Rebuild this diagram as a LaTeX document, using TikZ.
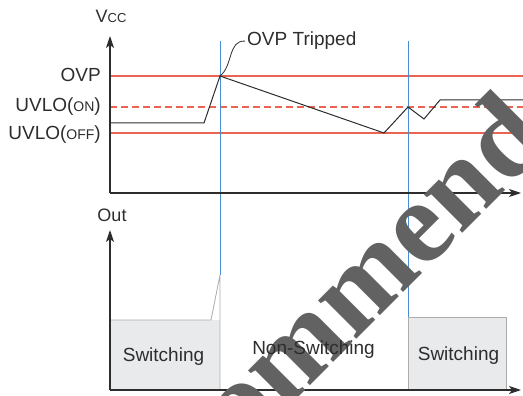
\documentclass[tikz,border=0pt]{standalone}
\usepackage{fontspec}
\setmainfont{Liberation Sans}
\newfontfamily\markfont{Liberation Serif}
\usetikzlibrary{arrows.meta}

\definecolor{limitred}{RGB}{234,100,84}
\definecolor{eventblue}{RGB}{72,142,212}
\definecolor{boxgray}{RGB}{233,234,236}
\definecolor{inkgray}{RGB}{45,45,45}
\definecolor{stampgray}{RGB}{98,98,98}

\begin{document}
\begin{tikzpicture}[x=1pt,y=-1pt,>={Stealth[length=12pt,width=8pt,inset=3pt]},
  axis/.style={->,line width=1.2pt,inkgray},
  level/.style={line width=1.3pt,limitred},
  event/.style={line width=1pt,eventblue},
  trace/.style={line width=1pt,inkgray},
  edge/.style={gray!65,line width=0.8pt},
  tag/.style={inner sep=0pt,text=inkgray,font=\fontsize{19}{19}\selectfont}]
\useasboundingbox (0,0) rectangle (523,396);

\coordinate (trip) at (220,76);

% threshold levels
\draw[level] (110,76) -- (523,76);
\draw[level,dash pattern=on 7pt off 4pt] (110,107) -- (523,107);
\draw[level] (110,133) -- (523,133);

% output regions
\fill[boxgray] (110,320) rectangle (220,390);
\fill[boxgray] (408,317) rectangle (506,390);
\draw[edge] (110,320) -- (211,320) -- (220,275) -- (220,390);
\draw[edge] (408,390) -- (408,317) -- (506,317) -- (506,390);

% events
\draw[event] (220,41) -- (220,275);
\draw[event] (408,41) -- (408,317);

% vcc trace
\draw[trace] (110,123) -- (204,123) -- (trip) -- (384,133) -- (408,107)
  -- (424,119) -- (440,100) -- (523,100);

% axes
\draw[axis] (110,193) -- (110,36);
\draw[axis] (110,193) -- (521,193);
\draw[axis] (110,390) -- (110,230);
\draw[axis] (110,390) -- (521,390);

\node[tag,anchor=base east] (ovp) at (101,82) {OVP};
\node[tag,anchor=base east] (uvloon) at (101,112) {UVLO({\fontsize{14}{14}\selectfont ON})};
\node[tag,anchor=base east] (uvlooff) at (101,140) {UVLO({\fontsize{14}{14}\selectfont OFF})};
\node[tag,anchor=base] (vcc) at (111,23) {{\fontsize{18}{18}\selectfont V}{\fontsize{13}{13}\selectfont CC}};
\node[tag,anchor=base,font=\fontsize{18}{18}\selectfont] (out) at (112,222) {Out};
\node[tag,anchor=base west] (tripped) at (247,46) {OVP Tripped};
\draw[trace,line width=0.8pt] (trip) .. controls (233,66) and (228,40) .. ([xshift=-2pt]tripped.west);

% watermark
\node[rotate=45,anchor=base,inner sep=0pt,text=stampgray,
  font=\markfont\bfseries\fontsize{118}{118}\selectfont] (stamp) at (373,323) {Recommended};

\node[tag,anchor=base] (swleft) at (163.5,361) {Switching};
\node[tag,anchor=base] (noswitch) at (313.5,354) {Non-Switching};
\node[tag,anchor=base] (swright) at (458.5,360) {Switching};
\end{tikzpicture}
\end{document}
